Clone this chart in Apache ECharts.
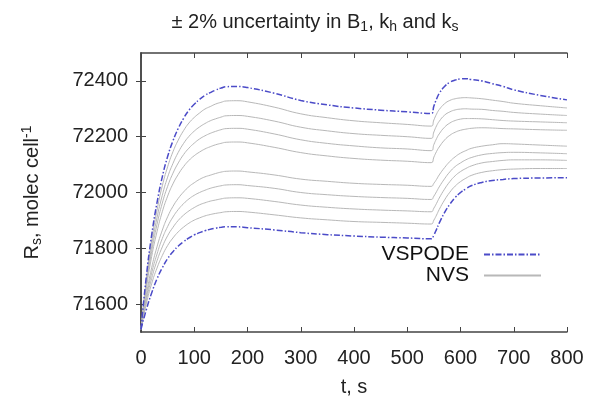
<!DOCTYPE html>
<html>
<head>
<meta charset="utf-8">
<script src="https://cdn.jsdelivr.net/npm/echarts@6/dist/echarts.min.js"></script>
<style>html,body{margin:0;padding:0;background:#fff;}#c{width:590px;height:402px;}</style>
</head>
<body>
<div id="c"></div>
<script>
var T = [0,10,20,30,40,50,60,70,80,90,100,110,120,130,140,150,160,180,200,250,300,350,400,450,500,545,550,555,560,570,580,590,600,610,620,640,660,680,700,750,800];
var vspodeUpper = [71510,71699,71847,71963,72056,72129,72185,72230,72266,72295,72316,72334,72348,72358,72367,72374,72379,72380,72376,72356,72330,72314,72303,72295,72289,72283,72310,72335,72355,72380,72395,72403,72407,72408,72405,72400,72390,72380,72368,72348,72332];
var vspodeLower = [71510,71580,71640,71690,71730,71763,71788,71808,71824,71837,71848,71856,71863,71868,71872,71875,71877,71877,71874,71866,71856,71849,71844,71840,71837,71834,71848,71868,71890,71928,71958,71982,72000,72013,72024,72036,72043,72047,72050,72052,72053];
var nvs1 = [71510,71688,71827,71936,72024,72092,72146,72188,72222,72249,72269,72285,72299,72308,72317,72323,72328,72329,72325,72306,72282,72268,72257,72250,72244,72238,72260,72281,72297,72318,72330,72336,72339,72340,72339,72336,72331,72326,72320,72311,72303];
var nvs2 = [71510,71676,71807,71909,71990,72055,72104,72144,72176,72201,72220,72235,72247,72257,72264,72270,72275,72276,72273,72256,72234,72221,72211,72205,72200,72194,72217,72239,72255,72277,72289,72296,72299,72300,72299,72298,72294,72291,72287,72281,72276];
var nvs3 = [71510,71666,71789,71885,71962,72022,72069,72106,72136,72159,72177,72192,72203,72212,72219,72225,72229,72230,72227,72210,72189,72176,72167,72160,72156,72150,72172,72193,72210,72234,72249,72258,72263,72265,72265,72264,72261,72258,72256,72253,72250];
var nvs4 = [71510,71655,71770,71859,71931,71987,72031,72065,72093,72115,72132,72145,72156,72164,72171,72176,72180,72181,72178,72162,72143,72131,72122,72116,72112,72107,72127,72147,72163,72188,72205,72216,72223,72227,72230,72232,72231,72229,72228,72225,72223];
var nvs5 = [71510,71633,71730,71805,71865,71913,71950,71979,72002,72021,72035,72047,72056,72062,72068,72073,72076,72077,72074,72063,72048,72040,72033,72029,72026,72022,72033,72047,72063,72089,72111,72128,72141,72150,72158,72166,72171,72175,72174,72170,72166];
var nvs6 = [71510,71622,71711,71779,71835,71878,71912,71939,71960,71977,71990,72000,72008,72015,72020,72024,72027,72028,72025,72015,72000,71992,71986,71982,71979,71975,71987,72003,72020,72049,72074,72093,72106,72117,72125,72135,72140,72143,72144,72142,72139];
var nvs7 = [71510,71612,71692,71755,71805,71845,71875,71900,71919,71934,71946,71956,71963,71969,71973,71977,71980,71981,71979,71968,71955,71947,71941,71937,71934,71931,71944,71961,71980,72012,72039,72060,72075,72086,72095,72106,72111,72115,72117,72117,72115];
var nvs8 = [71510,71601,71673,71729,71774,71810,71837,71859,71876,71890,71901,71909,71916,71921,71925,71928,71931,71932,71930,71920,71909,71902,71896,71893,71890,71887,71901,71919,71939,71973,72001,72023,72039,72051,72061,72072,72078,72082,72084,72086,72086];
var yTicks = [71600,71800,72000,72200,72400];

function pairs(ys){ return T.map(function(t,i){ return [t, ys[i]]; }); }

var FONT = 'Liberation Sans, Arial, sans-serif';
var AX = '#444';
var blue = '#4b4bc8';
var gray = '#b8b8b8';

var nvsList = [nvs1,nvs2,nvs3,nvs4,nvs5,nvs6,nvs7,nvs8];
var series = [];
nvsList.forEach(function(d){
  series.push({name:'NVS', type:'line', data:pairs(d), symbol:'none', smooth:0.5, z:2,
    lineStyle:{color:gray, width:1}, itemStyle:{color:gray}});
});
[vspodeUpper, vspodeLower].forEach(function(d){
  series.push({name:'VSPODE', type:'line', data:pairs(d), symbol:'none', smooth:0.5, z:3,
    lineStyle:{color:blue, width:1.5, type:[6,2,1.5,2]}, itemStyle:{color:blue}});
});

var chart = echarts.init(document.getElementById('c'), null, {renderer:'canvas'});
chart.setOption({
  animation:false,
  backgroundColor:'#fff',
  title:{
    text:'± 2% uncertainty in B{sub|1}, k{sub|h} and k{sub|s}',
    left:310, top:6, textAlign:'center',
    textStyle:{fontFamily:FONT, fontSize:20, fontWeight:'normal', color:'#222',
      rich:{sub:{fontFamily:FONT, fontSize:14, color:'#222', verticalAlign:'bottom', padding:[9,0,0,0]}}}
  },
  legend:{
    orient:'vertical', right:48, top:244, align:'right', itemGap:0, padding:0,
    itemWidth:57, itemHeight:10,
    itemStyle:{opacity:0},
    data:['VSPODE','NVS'],
    textStyle:{fontFamily:FONT, fontSize:21, color:'#111', padding:[0,10,0,0]}
  },
  grid:{left:141, right:23, top:53, bottom:65, containLabel:false},
  xAxis:[{
    type:'value', min:0, max:800, interval:100, position:'bottom',
    name:'t, s', nameLocation:'middle', nameGap:45,
    nameTextStyle:{fontFamily:FONT, fontSize:20, color:'#222'},
    axisLine:{show:true, lineStyle:{color:AX, width:1.5}},
    axisTick:{show:true, inside:true, length:5, lineStyle:{color:AX, width:1}},
    axisLabel:{fontFamily:FONT, fontSize:20, color:'#222', margin:16, showMaxLabel:true, showMinLabel:true},
    splitLine:{show:false}
  },{
    type:'value', min:0, max:800, interval:100, position:'top',
    axisLine:{show:true, lineStyle:{color:AX, width:1.5}},
    axisTick:{show:true, inside:true, length:5, lineStyle:{color:AX, width:1}},
    axisLabel:{show:false}, splitLine:{show:false}
  }],
  yAxis:[{
    type:'value', min:71500, max:72500, position:'left',
    name:'R{sub|s}, molec cell{sup|-1}', nameLocation:'middle', nameGap:97, nameRotate:90,
    nameTextStyle:{fontFamily:FONT, fontSize:20, color:'#222',
      rich:{sub:{fontFamily:FONT, fontSize:14, color:'#222', padding:[10,0,0,0]},
            sup:{fontFamily:FONT, fontSize:14, color:'#222', padding:[0,0,10,0]}}},
    axisLine:{show:true, lineStyle:{color:AX, width:1.5}},
    axisTick:{show:true, inside:true, length:5, customValues:yTicks, lineStyle:{color:AX, width:1}},
    axisLabel:{fontFamily:FONT, fontSize:20, color:'#222', margin:13, customValues:yTicks,
      formatter:function(v){ return String(v); }},
    splitLine:{show:false}
  },{
    type:'value', min:71500, max:72500, position:'right',
    axisLine:{show:true, lineStyle:{color:AX, width:1.5}},
    axisTick:{show:true, inside:true, length:5, customValues:yTicks, lineStyle:{color:AX, width:1}},
    axisLabel:{show:false}, splitLine:{show:false}
  }],
  series: series
});
</script>
</body>
</html>
